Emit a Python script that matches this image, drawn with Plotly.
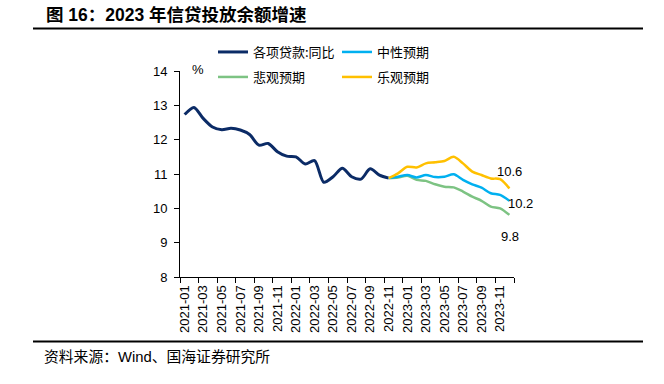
import plotly.graph_objects as go

months = ["2021-01", "2021-02", "2021-03", "2021-04", "2021-05", "2021-06",
          "2021-07", "2021-08", "2021-09", "2021-10", "2021-11", "2021-12",
          "2022-01", "2022-02", "2022-03", "2022-04", "2022-05", "2022-06",
          "2022-07", "2022-08", "2022-09", "2022-10", "2022-11", "2022-12",
          "2023-01", "2023-02", "2023-03", "2023-04", "2023-05", "2023-06",
          "2023-07", "2023-08", "2023-09", "2023-10", "2023-11", "2023-12"]

actual = [12.73, 12.94, 12.62, 12.37, 12.29, 12.33, 12.28, 12.15, 11.84, 11.89,
          11.65, 11.52, 11.50, 11.29, 11.39, 10.76, 10.92, 11.17, 10.92, 10.85,
          11.15, 10.97, 10.88]
neutral = [10.88, 10.92, 10.97, 10.90, 10.97, 10.91, 10.92, 10.99, 10.83, 10.70,
           10.60, 10.44, 10.39, 10.22]
pessimistic = [10.88, 10.90, 10.95, 10.83, 10.80, 10.70, 10.63, 10.61, 10.49, 10.34,
               10.22, 10.05, 10.00, 9.81]
optimistic = [10.88, 11.02, 11.21, 11.19, 11.31, 11.34, 11.38, 11.50, 11.31, 11.07,
              10.97, 10.87, 10.85, 10.58]

names = ["各项贷款:同比", "中性预期", "悲观预期", "乐观预期"]
colors = ["#0B2B66", "#00B0F0", "#7DC383", "#FFC000"]

x_idx = list(range(len(months)))
start = len(actual) - 1
x_act = x_idx[:len(actual)]
x_fc = x_idx[start:]

CJK = "Noto Sans CJK SC"
LAT = "Liberation Sans, Arial, Noto Sans CJK SC"
W, H = 664, 384
ML, MR, MT, MB = 180, 150, 71, 107
PW, PH = W - ML - MR, H - MT - MB

fig = go.Figure()
fig.add_trace(go.Scatter(x=x_act, y=actual, mode="lines", name=names[0],
                         line=dict(color=colors[0], width=3, shape="spline", smoothing=0.8),
                         legend="legend"))
fig.add_trace(go.Scatter(x=x_fc, y=pessimistic, mode="lines", name=names[2],
                         line=dict(color=colors[2], width=2.5, shape="spline", smoothing=0.8),
                         legend="legend3"))
fig.add_trace(go.Scatter(x=x_fc, y=neutral, mode="lines", name=names[1],
                         line=dict(color=colors[1], width=2.5, shape="spline", smoothing=0.8),
                         legend="legend2"))
fig.add_trace(go.Scatter(x=x_fc, y=optimistic, mode="lines", name=names[3],
                         line=dict(color=colors[3], width=2.5, shape="spline", smoothing=0.8),
                         legend="legend4"))

legend_common = dict(font=dict(family=CJK, size=13, color="#000000"),
                     bgcolor="rgba(0,0,0,0)", xref="container", yref="container",
                     xanchor="left", yanchor="middle", orientation="h",
                     tracegroupgap=0)
fig.update_layout(
    legend=dict(x=213 / W, y=1 - 52 / H, **legend_common),
    legend2=dict(x=337 / W, y=1 - 52 / H, **legend_common),
    legend3=dict(x=213 / W, y=1 - 77 / H, **legend_common),
    legend4=dict(x=337 / W, y=1 - 77 / H, **legend_common),
)

tick_labels = months[::2]
fig.update_xaxes(
    range=[-0.5, len(months) - 0.5], automargin=False,
    tickmode="array", tickvals=x_idx[::2], ticktext=tick_labels,
    tickangle=-90, ticks="", showgrid=False, zeroline=False,
    showline=True, linecolor="#000000", linewidth=1,
    tickfont=dict(family=LAT, size=13, color="#000000"), ticklabelstandoff=2,
    minor=dict(tickmode="linear", tick0=-0.5, dtick=2, ticks="outside",
               ticklen=5, tickcolor="#000000", tickwidth=1, showgrid=False),
)
fig.update_yaxes(
    range=[8, 14], dtick=1, ticks="outside", ticklen=5, tickcolor="#000000",
    automargin=False,
    showgrid=False, zeroline=False, showline=True, linecolor="#000000", linewidth=1,
    tickfont=dict(family=LAT, size=13, color="#000000"), ticklabelstandoff=4,
)

end_labels = [
    (optimistic[-1], 0, 17),
    (neutral[-1], 11, -3),
    (pessimistic[-1], 1, -22),
]
for val, dx, dy in end_labels:
    fig.add_annotation(x=x_idx[-1], y=val, text=f"{val:.1f}", xref="x", yref="y",
                       xshift=dx, yshift=dy, showarrow=False,
                       font=dict(family=LAT, size=13, color="#000000"))


def px_x(px):
    return (px - ML) / PW


def px_y(py):
    return 1 - (py - MT) / PH


fig.add_annotation(xref="paper", yref="paper", x=px_x(198), y=px_y(69),
                   xanchor="center", yanchor="middle", text="%", showarrow=False,
                   font=dict(family=LAT, size=13, color="#000000"))

# title and source
fig.add_annotation(xref="paper", yref="paper", x=px_x(44), y=px_y(15),
                   xanchor="left", yanchor="middle", showarrow=False,
                   text="<b>图 16：2023 年信贷投放余额增速</b>",
                   font=dict(family="Liberation Sans, Noto Sans CJK SC", size=17.5, color="#000000"))
fig.add_annotation(xref="paper", yref="paper", x=px_x(42), y=px_y(357),
                   xanchor="left", yanchor="middle", showarrow=False,
                   text="资料来源：Wind、国海证券研究所",
                   font=dict(family="Liberation Sans, Noto Sans CJK SC", size=14.8, color="#000000"))

for ly in (28.5, 341.5):
    fig.add_shape(type="line", xref="paper", yref="paper",
                  x0=px_x(33), x1=px_x(643), y0=px_y(ly), y1=px_y(ly),
                  line=dict(color="#000000", width=2))

fig.update_layout(
    width=W, height=H,
    margin=dict(l=ML, r=MR, t=MT, b=MB, autoexpand=False),
    paper_bgcolor="#FFFFFF", plot_bgcolor="#FFFFFF",
    showlegend=True,
)

fig.write_html("out.html", config={"displayModeBar": False},
               post_script="document.body.style.margin='0';")
